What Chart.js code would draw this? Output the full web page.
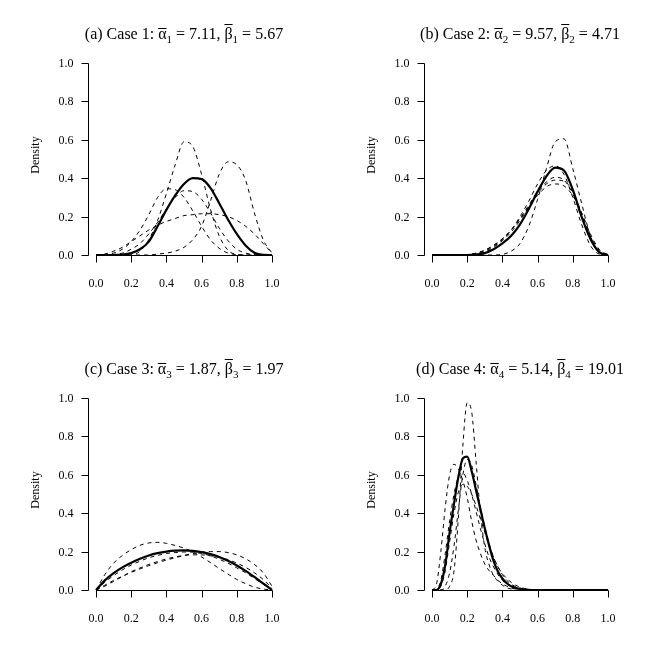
<!DOCTYPE html>
<html>
<head>
<meta charset="utf-8">
<script src="https://cdn.jsdelivr.net/npm/chart.js@4/dist/chart.umd.min.js"></script>
<style>
  body { margin: 0; background: #fff; }
  #wrap { position: relative; width: 672px; height: 671px; background: #fff; }
  canvas { position: absolute; }
</style>
</head>
<body>
<div id="wrap">
  <canvas id="panelA" width="336" height="336" style="left:0px;top:0px"></canvas>
  <canvas id="panelB" width="336" height="336" style="left:336px;top:0px"></canvas>
  <canvas id="panelC" width="336" height="336" style="left:0px;top:335px"></canvas>
  <canvas id="panelD" width="336" height="336" style="left:336px;top:335px"></canvas>
</div>
<script>
// axis ticks
var tickVals = [0, 0.2, 0.4, 0.6, 0.8, 1.0];
var tickLabels = ['0.0', '0.2', '0.4', '0.6', '0.8', '1.0'];

// panel titles
var panelTags = ['(a) Case 1: ', '(b) Case 2: ', '(c) Case 3: ', '(d) Case 4: '];
var subIdx = ['1', '2', '3', '4'];
var alphaBar = ['7.11', '9.57', '1.87', '5.14'];
var betaBar = ['5.67', '4.71', '1.97', '19.01'];

// x grid for cases 1-3
var xs = [0, 0.05, 0.1, 0.15, 0.2, 0.25, 0.3, 0.35, 0.4, 0.45, 0.5, 0.55, 0.6, 0.65, 0.7, 0.75, 0.8, 0.85, 0.9, 0.95, 1.0];
// finer x grid for case 4
var xsD = [0, 0.025, 0.05, 0.075, 0.1, 0.125, 0.15, 0.175, 0.2, 0.225, 0.25, 0.275, 0.3, 0.325, 0.35, 0.375, 0.4, 0.425, 0.45, 0.475, 0.5, 0.525, 0.55, 0.575, 0.6, 0.7, 0.8, 0.9, 1.0];

// case 1
var aMean = [0, 0, 0, 0.002, 0.01, 0.03, 0.07, 0.15, 0.235, 0.31, 0.37, 0.40, 0.395, 0.35, 0.27, 0.185, 0.11, 0.05, 0.012, 0.001, 0];
var aDash1 = [0, 0.002, 0.01, 0.03, 0.07, 0.13, 0.21, 0.30, 0.345, 0.34, 0.30, 0.23, 0.15, 0.08, 0.035, 0.01, 0.002, 0, 0, 0, 0];
var aDash2 = [0, 0, 0.003, 0.01, 0.03, 0.06, 0.11, 0.17, 0.24, 0.30, 0.335, 0.33, 0.29, 0.22, 0.14, 0.075, 0.03, 0.01, 0.002, 0, 0];
var aDash3 = [0, 0, 0, 0, 0, 0.02, 0.08, 0.18, 0.32, 0.47, 0.59, 0.565, 0.42, 0.24, 0.10, 0.025, 0.003, 0, 0, 0, 0];
var aDash4 = [0, 0, 0, 0, 0, 0, 0, 0.005, 0.01, 0.02, 0.04, 0.08, 0.15, 0.28, 0.42, 0.485, 0.47, 0.39, 0.22, 0.08, 0.01];
var aDash5 = [0, 0.005, 0.02, 0.04, 0.07, 0.10, 0.13, 0.155, 0.175, 0.19, 0.205, 0.21, 0.215, 0.215, 0.21, 0.20, 0.18, 0.15, 0.11, 0.06, 0.01];

// case 2
var bMean = [0, 0, 0, 0, 0, 0.003, 0.01, 0.03, 0.06, 0.10, 0.16, 0.24, 0.33, 0.41, 0.455, 0.44, 0.34, 0.20, 0.085, 0.015, 0];
var bDash1 = [0, 0, 0, 0, 0, 0, 0, 0, 0.003, 0.02, 0.06, 0.15, 0.29, 0.45, 0.59, 0.605, 0.45, 0.27, 0.10, 0.015, 0];
var bDash2 = [0, 0, 0, 0, 0.002, 0.01, 0.025, 0.05, 0.085, 0.13, 0.2, 0.28, 0.37, 0.44, 0.465, 0.42, 0.3, 0.16, 0.05, 0.005, 0];
var bDash3 = [0, 0, 0, 0, 0, 0.005, 0.02, 0.045, 0.08, 0.13, 0.19, 0.26, 0.33, 0.38, 0.405, 0.39, 0.32, 0.2, 0.08, 0.015, 0];
var bDash4 = [0, 0, 0, 0, 0, 0.003, 0.015, 0.04, 0.075, 0.12, 0.18, 0.25, 0.32, 0.37, 0.39, 0.385, 0.33, 0.22, 0.10, 0.025, 0];
var bDash5 = [0, 0, 0, 0, 0, 0.008, 0.025, 0.05, 0.085, 0.13, 0.19, 0.25, 0.31, 0.355, 0.37, 0.36, 0.31, 0.22, 0.11, 0.03, 0];

// case 3
var cMean = [0, 0.05, 0.088, 0.118, 0.142, 0.163, 0.18, 0.192, 0.2, 0.205, 0.206, 0.204, 0.197, 0.187, 0.172, 0.152, 0.128, 0.1, 0.068, 0.034, 0];
var cDash1 = [0, 0.08, 0.14, 0.18, 0.21, 0.233, 0.245, 0.248, 0.243, 0.232, 0.218, 0.198, 0.172, 0.143, 0.112, 0.083, 0.055, 0.033, 0.015, 0.005, 0];
var cDash2 = [0, 0.025, 0.05, 0.072, 0.092, 0.11, 0.127, 0.142, 0.156, 0.168, 0.18, 0.19, 0.197, 0.2, 0.2, 0.195, 0.183, 0.163, 0.133, 0.09, 0.02];
var cDash3 = [0, 0.02, 0.045, 0.07, 0.095, 0.115, 0.133, 0.148, 0.162, 0.172, 0.18, 0.183, 0.183, 0.178, 0.17, 0.158, 0.14, 0.118, 0.09, 0.055, 0.01];
var cDash4 = [0, 0.04, 0.075, 0.105, 0.13, 0.15, 0.168, 0.18, 0.19, 0.195, 0.198, 0.197, 0.19, 0.178, 0.16, 0.14, 0.115, 0.09, 0.06, 0.03, 0];

// case 4
var dMean = [0, 0, 0.03, 0.13, 0.3, 0.45, 0.59, 0.685, 0.695, 0.62, 0.52, 0.42, 0.32, 0.23, 0.15, 0.095, 0.06, 0.035, 0.02, 0.012, 0.006, 0.003, 0.001, 0, 0, 0, 0, 0, 0];
var dDash1 = [0, 0, 0, 0, 0.02, 0.1, 0.38, 0.75, 0.975, 0.93, 0.67, 0.4, 0.22, 0.13, 0.075, 0.045, 0.025, 0.012, 0.005, 0, 0, 0, 0, 0, 0, 0, 0, 0, 0];
var dDash2 = [0, 0.03, 0.2, 0.43, 0.6, 0.655, 0.63, 0.57, 0.48, 0.36, 0.26, 0.19, 0.135, 0.1, 0.075, 0.05, 0.032, 0.02, 0.01, 0.005, 0, 0, 0, 0, 0, 0, 0, 0, 0];
var dDash3 = [0, 0.005, 0.05, 0.19, 0.36, 0.5, 0.59, 0.61, 0.57, 0.5, 0.41, 0.32, 0.24, 0.17, 0.12, 0.08, 0.05, 0.03, 0.018, 0.01, 0.005, 0.002, 0, 0, 0, 0, 0, 0, 0];
var dDash4 = [0, 0, 0.02, 0.1, 0.25, 0.4, 0.51, 0.55, 0.54, 0.5, 0.44, 0.37, 0.3, 0.23, 0.17, 0.12, 0.085, 0.06, 0.04, 0.025, 0.015, 0.008, 0.004, 0.001, 0, 0, 0, 0, 0];
var dDash5 = [0, 0, 0, 0.02, 0.09, 0.23, 0.42, 0.6, 0.68, 0.65, 0.55, 0.43, 0.33, 0.24, 0.17, 0.12, 0.08, 0.05, 0.03, 0.018, 0.01, 0.005, 0.002, 0, 0, 0, 0, 0, 0];

var serif = '"Liberation Serif", "Times New Roman", serif';

function toPoints(xv, yv) {
    return xv.map(function(x, i) { return { x: x, y: yv[i] }; });
}

function makeSets(xv, mean, dashed) {
    // first dataset is drawn last, so the bold mean curve sits on top
    var sets = [{
        data: toPoints(xv, mean),
        borderColor: '#000',
        borderWidth: 2.2,
        pointRadius: 0,
        cubicInterpolationMode: 'monotone',
        clip: 4
    }];
    dashed.forEach(function(d) {
        sets.push({
            data: toPoints(xv, d),
            borderColor: '#000',
            borderWidth: 1,
            borderDash: [4, 4],
            pointRadius: 0,
            cubicInterpolationMode: 'monotone',
            clip: 4
        });
    });
    return sets;
}

function drawTitle(ctx, cx, baseY, idx) {
    var big = '16px ' + serif, small = '11px ' + serif;
    var segs = [
        { t: panelTags[idx], f: big },
        { t: 'α', f: big, bar: 11 },
        { t: subIdx[idx], f: small, dy: 4 },
        { t: ' = ' + alphaBar[idx] + ', ', f: big },
        { t: 'β', f: big, bar: 15 },
        { t: subIdx[idx], f: small, dy: 4 },
        { t: ' = ' + betaBar[idx], f: big }
    ];
    var total = 0;
    segs.forEach(function(s) { ctx.font = s.f; s.w = ctx.measureText(s.t).width; total += s.w; });
    var x = cx - total / 2;
    ctx.textAlign = 'left';
    ctx.textBaseline = 'alphabetic';
    segs.forEach(function(s) {
        ctx.font = s.f;
        ctx.fillText(s.t, x, baseY + (s.dy || 0));
        if (s.bar) {
            ctx.beginPath();
            ctx.moveTo(x, baseY - s.bar + 0.5);
            ctx.lineTo(x + s.w, baseY - s.bar + 0.5);
            ctx.stroke();
        }
        x += s.w;
    });
}

// R-style axes: lines only span the tick range, ticks point outward
var rAxes = {
    id: 'rAxes',
    beforeDatasetsDraw: function(chart) {
        var ctx = chart.ctx, sx = chart.scales.x, sy = chart.scales.y;
        var y0 = Math.round(sy.getPixelForValue(0)) + 0.5;
        var xa = Math.round(chart.chartArea.left) - 0.5;
        ctx.save();
        ctx.strokeStyle = '#000';
        ctx.fillStyle = '#000';
        ctx.lineWidth = 1;
        ctx.beginPath();
        ctx.moveTo(Math.round(sx.getPixelForValue(tickVals[0])) + 0.5, y0);
        ctx.lineTo(Math.round(sx.getPixelForValue(tickVals[tickVals.length - 1])) + 0.5, y0);
        ctx.moveTo(xa, Math.round(sy.getPixelForValue(tickVals[0])) + 0.5);
        ctx.lineTo(xa, Math.round(sy.getPixelForValue(tickVals[tickVals.length - 1])) + 0.5);
        tickVals.forEach(function(v) {
            var px = Math.round(sx.getPixelForValue(v)) + 0.5;
            ctx.moveTo(px, y0);
            ctx.lineTo(px, y0 + 7);
            var py = Math.round(sy.getPixelForValue(v)) + 0.5;
            ctx.moveTo(xa, py);
            ctx.lineTo(xa - 7, py);
        });
        ctx.stroke();

        ctx.font = '12px ' + serif;
        ctx.textBaseline = 'alphabetic';
        tickVals.forEach(function(v, i) {
            ctx.textAlign = 'center';
            ctx.fillText(tickLabels[i], sx.getPixelForValue(v), y0 + 31);
            ctx.textAlign = 'right';
            ctx.fillText(tickLabels[i], xa - 15, sy.getPixelForValue(v) + 4);
        });

        ctx.save();
        ctx.translate(36, 155);
        ctx.rotate(-Math.PI / 2);
        ctx.textAlign = 'center';
        ctx.textBaseline = 'middle';
        ctx.fillText('Density', 0, 0);
        ctx.restore();

        var ca = chart.chartArea;
        drawTitle(ctx, (ca.left + ca.right) / 2, 39, chart.options.plugins.rAxes.panel);
        ctx.restore();
    }
};

function makePanel(id, panel, xv, mean, dashed) {
    new Chart(document.getElementById(id), {
        type: 'line',
        data: { datasets: makeSets(xv, mean, dashed) },
        options: {
            responsive: false,
            animation: false,
            events: [],
            layout: { padding: { left: 89, right: 57, top: 63, bottom: 81 } },
            scales: {
                x: { type: 'linear', min: -0.04, max: 1.04, display: false },
                y: { type: 'linear', min: 0, max: 1, display: false }
            },
            plugins: {
                legend: { display: false },
                tooltip: { enabled: false },
                rAxes: { panel: panel }
            }
        },
        plugins: [rAxes]
    });
}

makePanel('panelA', 0, xs, aMean, [aDash1, aDash2, aDash3, aDash4, aDash5]);
makePanel('panelB', 1, xs, bMean, [bDash1, bDash2, bDash3, bDash4, bDash5]);
makePanel('panelC', 2, xs, cMean, [cDash1, cDash2, cDash3, cDash4]);
makePanel('panelD', 3, xsD, dMean, [dDash1, dDash2, dDash3, dDash4, dDash5]);
</script>
</body>
</html>
